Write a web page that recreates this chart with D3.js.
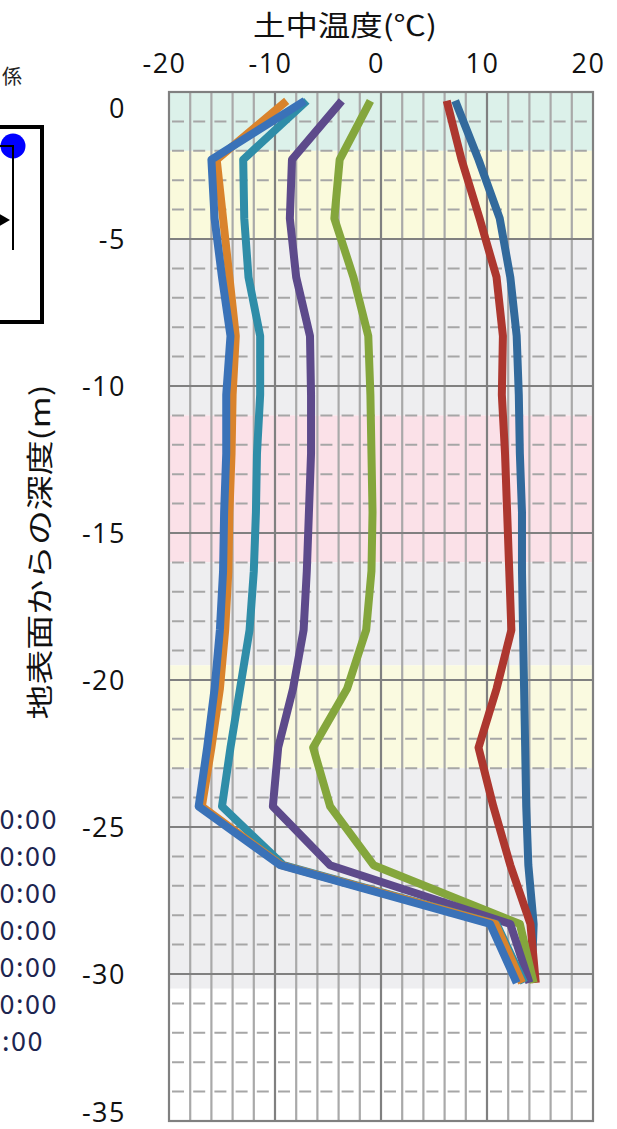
<!DOCTYPE html>
<html>
<head>
<meta charset="utf-8">
<script src="https://cdn.jsdelivr.net/npm/d3@7"></script>
<style>
  body { margin: 0; background: #fff; }
  svg text { font-family: "Noto Sans CJK JP", "Open Sans", sans-serif; }
  svg .tick text { font-family: "Open Sans", "Noto Sans", sans-serif; }
</style>
</head>
<body>
<div class="canvas"></div>
<script>
const dims = { width: 617, height: 1129 };
const plot = { left: 169, right: 593, top: 92, bottom: 1121 };

// depth of each reading (m)
const depths = [-0.3, -2.3, -4.3, -6.3, -8.3, -10.3, -12.3, -14.3, -16.3, -18.3, -20.3, -22.3, -24.3, -26.3, -28.3, -30.3];

// soil temperature (°C) per series, top to bottom
const tempDarkBlue = [7.0, 9.2, 11.2, 12.2, 12.8, 13.0, 13.1, 13.3, 13.3, 13.4, 13.5, 13.6, 13.7, 13.9, 14.4, 14.2];
const tempRed      = [6.2, 7.6, 9.3, 10.9, 11.5, 11.4, 11.7, 11.9, 12.1, 12.3, 10.9, 9.2, 10.6, 12.2, 14.1, 14.6];
const tempGreen    = [-1.0, -3.9, -4.4, -2.6, -1.2, -1.0, -0.9, -0.8, -0.9, -1.4, -3.2, -6.4, -4.8, -0.7, 13.1, 14.4];
const tempPurple   = [-3.7, -8.4, -8.6, -8.0, -6.7, -6.6, -6.6, -6.8, -7.0, -7.3, -8.3, -9.7, -10.2, -4.8, 12.2, 14.0];
const tempTeal     = [-7.0, -13.0, -12.9, -12.5, -11.4, -11.4, -11.7, -11.8, -12.0, -12.4, -13.3, -14.2, -15.0, -9.2, 10.9, 13.5];
const tempOrange   = [-8.9, -15.5, -14.9, -14.3, -13.7, -14.0, -14.1, -14.3, -14.4, -14.7, -15.2, -16.0, -16.9, -9.4, 10.8, 13.3];
const tempBlue     = [-7.2, -16.0, -15.7, -15.0, -14.2, -14.6, -14.6, -14.8, -14.9, -15.2, -15.7, -16.4, -17.2, -9.5, 10.3, 12.8];

const seriesList = [tempDarkBlue, tempRed, tempGreen, tempPurple, tempTeal, tempOrange, tempBlue];
const seriesColours = ['#326a9c', '#ad372f', '#84a63c', '#5d4a8b', '#2f8da8', '#d9832c', '#3a72b8'];

// soil layer bands (depth from, depth to)
const bandFrom = [0, -2, -5, -11, -16, -19.5, -23, -30.5];
const bandTo   = [-2, -5, -11, -16, -19.5, -23, -30.5, -35];
const bandColours = ['#dcf1ea', '#fafadc', '#eeeef0', '#fbe1e8', '#eeeef0', '#fafae0', '#eeeef0', '#ffffff'];

const xTicks = [-20, -10, 0, 10, 20];
const yTicks = [0, -5, -10, -15, -20, -25, -30, -35];
const legendLabels = ['0:00', '0:00', '0:00', '0:00', '0:00', '0:00', ':00'];

const svg = d3.select('.canvas')
    .append('svg')
    .attr('width', dims.width)
    .attr('height', dims.height);

const x = d3.scaleLinear().domain([-20, 20]).range([plot.left, plot.right]);
const y = d3.scaleLinear().domain([0, -35]).range([plot.top, plot.bottom]);

//background bands
svg.append('g').selectAll('rect')
    .data(bandFrom)
    .enter().append('rect')
    .attr('x', x(-20))
    .attr('width', x(20) - x(-20))
    .attr('y', d => y(d))
    .attr('height', (d, i) => y(bandTo[i]) - y(d))
    .attr('fill', (d, i) => bandColours[i]);

//grid
const grid = svg.append('g');
grid.selectAll('.hminor')
    .data(d3.range(-1, -35, -1).filter(d => d % 5 !== 0))
    .enter().append('line')
    .attr('x1', x(-20)).attr('x2', x(20))
    .attr('y1', d => y(d)).attr('y2', d => y(d))
    .attr('stroke', '#a6a6a6')
    .attr('stroke-width', 2)
    .attr('stroke-dasharray', '12,9.2')
    .attr('stroke-dashoffset', -3);

grid.selectAll('.vminor')
    .data(d3.range(-18, 20, 2).filter(d => d % 10 !== 0))
    .enter().append('line')
    .attr('x1', d => x(d)).attr('x2', d => x(d))
    .attr('y1', y(0)).attr('y2', y(-35))
    .attr('stroke', '#a9a9a9')
    .attr('stroke-width', 2.2);

grid.selectAll('.vmajor')
    .data([-10, 0, 10])
    .enter().append('line')
    .attr('x1', d => x(d)).attr('x2', d => x(d))
    .attr('y1', y(0)).attr('y2', y(-35))
    .attr('stroke', '#808080')
    .attr('stroke-width', 2.2);

grid.selectAll('.hmajor')
    .data([-5, -10, -15, -20, -25, -30])
    .enter().append('line')
    .attr('x1', x(-20)).attr('x2', x(20))
    .attr('y1', d => y(d)).attr('y2', d => y(d))
    .attr('stroke', '#808080')
    .attr('stroke-width', 2.2);

grid.append('rect')
    .attr('x', x(-20)).attr('y', y(0))
    .attr('width', x(20) - x(-20))
    .attr('height', y(-35) - y(0))
    .attr('fill', 'none')
    .attr('stroke', '#808080')
    .attr('stroke-width', 2.2);

//temperature profiles
const line = d3.line()
    .x(d => x(d[0]))
    .y(d => y(d[1]));

svg.append('g').selectAll('path')
    .data(seriesList)
    .enter().append('path')
    .attr('d', s => line(s.map((t, i) => [t, depths[i]])))
    .attr('fill', 'none')
    .attr('stroke', (s, i) => seriesColours[i])
    .attr('stroke-width', 8)
    .attr('stroke-linejoin', 'round')
    .attr('stroke-linecap', 'butt');

//axes (plain hyphen like the original, not the unicode minus)
const xAxis = d3.axisTop(x).tickValues(xTicks).tickSize(0).tickPadding(0).tickFormat(d => `${d}`);
svg.append('g')
    .attr('transform', 'translate(-5,73)')
    .call(xAxis)
    .call(g => g.select('.domain').remove())
    .selectAll('text')
    .attr('font-size', 27)
    .attr('fill', '#111')
    .style('letter-spacing', '1.5px');

const yAxis = d3.axisLeft(y).tickValues(yTicks).tickSize(0).tickPadding(0).tickFormat(d => `${d}`);
svg.append('g')
    .attr('transform', 'translate(126,0)')
    .call(yAxis)
    .call(g => g.select('.domain').remove())
    .selectAll('text')
    .attr('font-size', 27)
    .attr('fill', '#111')
    .attr('dy', d => d === 0 ? '0.95em' : (d === -35 ? '0em' : '0.35em'))
    .style('letter-spacing', '1.5px');

//axis titles
svg.append('text')
    .attr('x', 345).attr('y', 24)
    .attr('text-anchor', 'middle')
    .attr('dominant-baseline', 'central')
    .attr('font-size', 28)
    .attr('fill', '#111')
    .attr('textLength', 184)
    .attr('lengthAdjust', 'spacingAndGlyphs')
    .text('土中温度(℃)');

svg.append('text')
    .attr('transform', 'translate(38,552) rotate(-90)')
    .attr('text-anchor', 'middle')
    .attr('dominant-baseline', 'central')
    .attr('font-size', 27)
    .attr('fill', '#111')
    .attr('textLength', 335)
    .attr('lengthAdjust', 'spacingAndGlyphs')
    .text('地表面からの深度(m)');

//left side: cut off title, diagram and legend
svg.append('text')
    .attr('x', 22).attr('y', 84)
    .attr('text-anchor', 'end')
    .attr('font-size', 20)
    .attr('fill', '#222')
    .text('係');

const diag = svg.append('g');
diag.append('rect')
    .attr('x', -20).attr('y', 127)
    .attr('width', 62).attr('height', 195)
    .attr('fill', 'none')
    .attr('stroke', '#000')
    .attr('stroke-width', 4);
diag.append('circle')
    .attr('cx', 13).attr('cy', 146).attr('r', 12.5)
    .attr('fill', '#0000ff');
diag.append('path')
    .attr('d', 'M0,146 H13 V250')
    .attr('fill', 'none')
    .attr('stroke', '#000')
    .attr('stroke-width', 2);
diag.append('path')
    .attr('d', 'M-2,213 L10,220 L-2,227 Z')
    .attr('fill', '#000');

svg.append('g').selectAll('text')
    .data(legendLabels)
    .enter().append('text')
    .attr('x', (d, i) => i === legendLabels.length - 1 ? 44 : 58)
    .attr('y', (d, i) => 817 + i * 37)
    .attr('text-anchor', 'end')
    .attr('dominant-baseline', 'central')
    .attr('font-size', 27)
    .attr('fill', '#1d2550')
    .style('letter-spacing', '1.5px')
    .text(d => d);
</script>
</body>
</html>
